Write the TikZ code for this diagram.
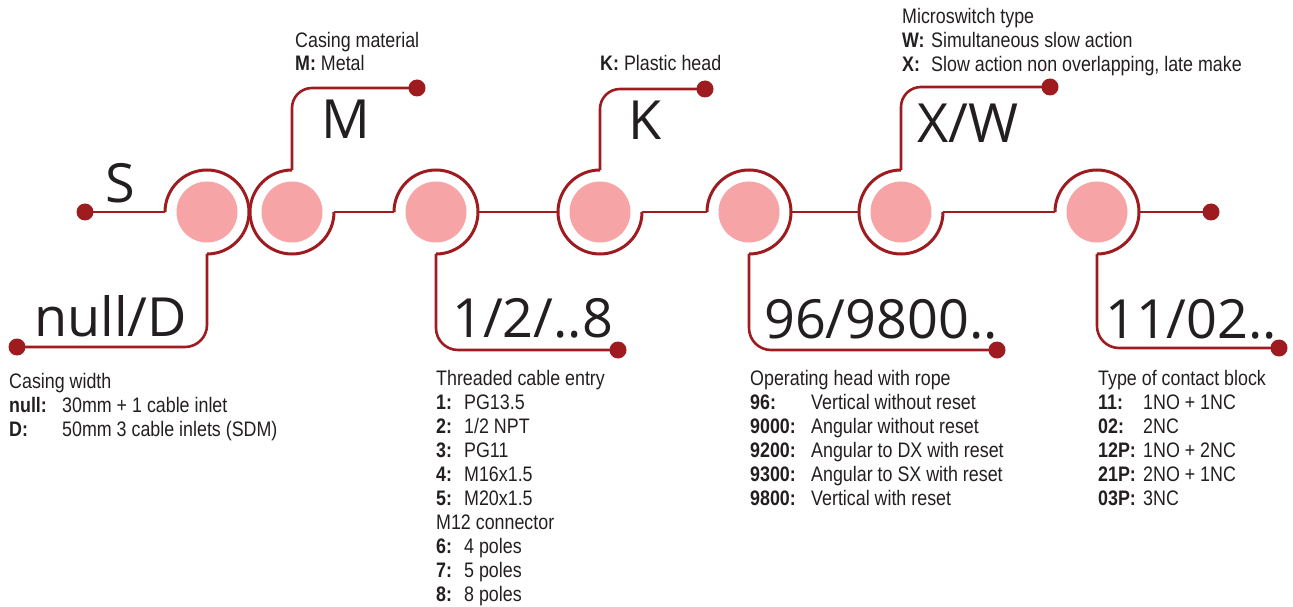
\documentclass[tikz,border=0pt]{standalone}
\usepackage{fontspec}
\setmainfont{Liberation Sans}[FakeStretch=0.85]
\newfontfamily\bigfont{Open Sans}
\usetikzlibrary{calc}
\definecolor{wire}{HTML}{9E1B20}
\definecolor{pinkc}{HTML}{F6A4A6}
\definecolor{ink}{HTML}{231F20}
\tikzset{
  wirel/.style={draw=wire, line width=2.6pt},
  ring/.style={draw=wire, line width=3pt},
  pinkdot/.style={circle, fill=pinkc, minimum size=61pt, inner sep=0pt},
  enddot/.style={circle, fill=wire, minimum size=17pt, inner sep=0pt},
  big/.style={font=\bigfont\fontsize{54}{54}\selectfont, text=ink, inner sep=0pt, anchor=base west},
  small/.style={font=\fontsize{21}{24}\selectfont, text=ink, inner sep=0pt, anchor=base west},
}
\newcommand\lbl[2]{\makebox[#1pt][l]{\bfseries #2}}
\begin{document}
\begin{tikzpicture}[x=1pt,y=1pt]
\useasboundingbox (0,0) rectangle (1293,606);
% pink circles
\node[pinkdot] (c1) at (207,394) {};
\node[pinkdot] (c2) at (292,394) {};
\node[pinkdot] (c3) at (436,394) {};
\node[pinkdot] (c4) at (600,394) {};
\node[pinkdot] (c5) at (749,394) {};
\node[pinkdot] (c6) at (901,394) {};
\node[pinkdot] (c7) at (1097,394) {};
% rings
\draw[ring] ($(c1)+(180:42)$) arc[start angle=180, end angle=-90, radius=42];
\draw[ring] ($(c2)+(90:42)$) arc[start angle=90, end angle=360, radius=42];
\draw[ring] ($(c3)+(180:42)$) arc[start angle=180, end angle=-90, radius=42];
\draw[ring] ($(c4)+(90:42)$) arc[start angle=90, end angle=360, radius=42];
\draw[ring] ($(c5)+(180:42)$) arc[start angle=180, end angle=-90, radius=42];
\draw[ring] ($(c6)+(90:42)$) arc[start angle=90, end angle=360, radius=42];
\draw[ring] ($(c7)+(180:42)$) arc[start angle=180, end angle=-90, radius=42];
% end dots
\node[enddot] (dS) at (85,394) {};
\node[enddot] (dEnd) at (1211,394) {};
\node[enddot] (dM) at (417,518) {};
\node[enddot] (dK) at (705,517) {};
\node[enddot] (dX) at (1050,519) {};
\node[enddot] (dD) at (17,259) {};
\node[enddot] (d8) at (618,256) {};
\node[enddot] (d98) at (997,256) {};
\node[enddot] (d02) at (1279,258) {};
% main line connectors
\draw[wirel] (dS.center) -- ($(c1)+(-42,0)$);
\draw[wirel] ($(c2)+(42,0)$) -- ($(c3)+(-42,0)$);
\draw[wirel] ($(c3)+(42,0)$) -- ($(c4)+(-42,0)$);
\draw[wirel] ($(c4)+(42,0)$) -- ($(c5)+(-42,0)$);
\draw[wirel] ($(c5)+(42,0)$) -- ($(c6)+(-42,0)$);
\draw[wirel] ($(c6)+(42,0)$) -- ($(c7)+(-42,0)$);
\draw[wirel] ($(c7)+(42,0)$) -- (dEnd.center);
% upper branches
\draw[wirel, rounded corners=20pt] ($(c2)+(0,42)$) |- (dM.center);
\draw[wirel, rounded corners=20pt] ($(c4)+(0,42)$) |- (dK.center);
\draw[wirel, rounded corners=20pt] ($(c6)+(0,42)$) |- (dX.center);
% lower branches
\draw[wirel, rounded corners=22pt] ($(c1)+(0,-42)$) |- (dD.center);
\draw[wirel, rounded corners=22pt] ($(c3)+(0,-42)$) |- (d8.center);
\draw[wirel, rounded corners=22pt] ($(c5)+(0,-42)$) |- (d98.center);
\draw[wirel, rounded corners=22pt] ($(c7)+(0,-42)$) |- (d02.center);
% big codes
\node[big] (bS) at (105,403) {S};
\node[big] (bM) at (321,467) {M};
\node[big] (bK) at (628,466) {K};
\node[big] (bXW) at (917,463) {X/W};
\node[big] (bnull) at (34,270) {null/D};
\node[big] (b18) at (452,269) {1/2/..8};
\node[big] (b96) at (764,268) {96/9800..};
\node[big] (b11) at (1105,268) {11/02..};
% top texts
\node[small] (tm1) at (295,558) {Casing material};
\node[small] (tm2) at (295,535) {\textbf{M:} Metal};
\node[small] (tk1) at (600,535) {\textbf{K:} Plastic head};
\node[small] (tx1) at (902,582) {Microswitch type};
\node[small] (tx2) at (902,558) {\lbl{29}{W:}Simultaneous slow action};
\node[small] (tx3) at (902,534) {\lbl{29}{X:}Slow action non overlapping, late make};
% casing width
\node[small] (tw1) at (9,218) {Casing width};
\node[small] (tw2) at (9,194) {\lbl{53}{null:}30mm + 1 cable inlet};
\node[small] (tw3) at (9,170) {\lbl{53}{D:}50mm 3 cable inlets (SDM)};
% threaded cable entry
\node[small] (te0) at (436,221) {Threaded cable entry};
\node[small] (te1) at (436,197) {\lbl{28}{1:}PG13.5};
\node[small] (te2) at (436,173) {\lbl{28}{2:}1/2 NPT};
\node[small] (te3) at (436,149) {\lbl{28}{3:}PG11};
\node[small] (te4) at (436,125) {\lbl{28}{4:}M16x1.5};
\node[small] (te5) at (436,101) {\lbl{28}{5:}M20x1.5};
\node[small] (te6) at (436,77) {M12 connector};
\node[small] (te7) at (436,53) {\lbl{28}{6:}4 poles};
\node[small] (te8) at (436,29) {\lbl{28}{7:}5 poles};
\node[small] (te9) at (436,5) {\lbl{28}{8:}8 poles};
% operating head
\node[small] (th0) at (750,221) {Operating head with rope};
\node[small] (th1) at (750,197) {\lbl{61}{96:}Vertical without reset};
\node[small] (th2) at (750,173) {\lbl{61}{9000:}Angular without reset};
\node[small] (th3) at (750,149) {\lbl{61}{9200:}Angular to DX with reset};
\node[small] (th4) at (750,125) {\lbl{61}{9300:}Angular to SX with reset};
\node[small] (th5) at (750,101) {\lbl{61}{9800:}Vertical with reset};
% contact block
\node[small] (tc0) at (1098,221) {Type of contact block};
\node[small] (tc1) at (1098,197) {\lbl{45}{11:}1NO + 1NC};
\node[small] (tc2) at (1098,173) {\lbl{45}{02:}2NC};
\node[small] (tc3) at (1098,149) {\lbl{45}{12P:}1NO + 2NC};
\node[small] (tc4) at (1098,125) {\lbl{45}{21P:}2NO + 1NC};
\node[small] (tc5) at (1098,101) {\lbl{45}{03P:}3NC};
\end{tikzpicture}
\end{document}
